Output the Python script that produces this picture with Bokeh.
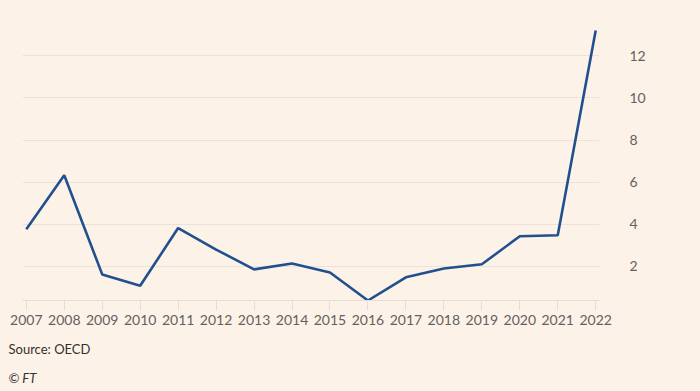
from bokeh.plotting import figure
from bokeh.models import Range1d, FixedTicker, Title
from bokeh.embed import file_html
from bokeh.resources import INLINE

years = list(range(2007, 2023))
values = [3.76, 6.33, 1.62, 1.08, 3.82, 2.80, 1.86, 2.14, 1.71, 0.38,
          1.48, 1.90, 2.10, 3.43, 3.48, 13.2]
y_ticks = [2, 4, 6, 8, 10, 12]

BG = "#fdf2e8"
FONT = "Lato"

p = figure(width=700, height=391, output_backend="svg", toolbar_location=None,
           x_range=Range1d(2006.9, 2022.1), y_range=Range1d(0.38, 13.3),
           y_axis_location="right",
           min_border_left=22, min_border_right=101, min_border_top=28, min_border_bottom=91)
p.background_fill_color = BG
p.border_fill_color = BG
p.outline_line_color = None

p.line(years, values, line_color="#21508f", line_width=2.6)

xa = p.xaxis[0]
xa.ticker = FixedTicker(ticks=years)
xa.axis_line_color = "#e6ddd4"
xa.major_tick_line_color = "#e6ddd4"
xa.major_tick_out = 10
xa.major_tick_in = 0
xa.minor_tick_line_color = None
xa.major_label_standoff = 4
xa.major_label_text_font = FONT
xa.major_label_text_font_size = "14px"
xa.major_label_text_color = "#66605c"

ya = p.yaxis[0]
ya.ticker = FixedTicker(ticks=y_ticks)
ya.axis_line_color = None
ya.major_tick_line_color = None
ya.minor_tick_line_color = None
ya.major_label_standoff = 24
ya.major_label_text_align = "right"
ya.major_label_text_font = FONT
ya.major_label_text_font_size = "14px"
ya.major_label_text_color = "#66605c"

p.xgrid.grid_line_color = None
p.ygrid.ticker = FixedTicker(ticks=y_ticks)
p.ygrid.grid_line_color = "#ebe2da"
p.ygrid.grid_line_width = 1

src = Title(text="Source: OECD", align="left", offset=-14, standoff=22,
            text_font=FONT, text_font_size="13px", text_font_style="normal",
            text_color="#33302e")
ft = Title(text="© FT", align="left", offset=-14, standoff=0,
           text_font=FONT, text_font_size="13px", text_font_style="italic",
           text_color="#33302e")
p.add_layout(src, "below")
p.add_layout(ft, "below")

html = file_html(p, INLINE)
html = html.replace("<head>", "<head><style>body{background:%s;}</style>" % BG, 1)
open("out.html", "w").write(html)
